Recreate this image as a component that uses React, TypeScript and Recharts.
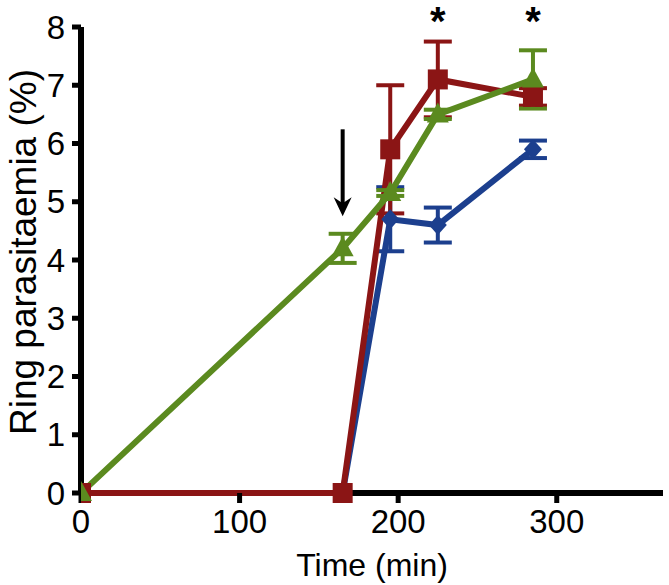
import React from "react";
import {
  LineChart,
  Line,
  XAxis,
  YAxis,
  ErrorBar,
  ReferenceDot,
  ReferenceLine,
} from "recharts";

// time points (min)
const times = [0, 165, 195, 225, 285];

// ring parasitaemia (%) and error per series
const redValues = [0, 0, 5.9, 7.1, 6.8];
const redErrors = [0, 0, 1.1, 0.65, 0.15];
const greenValues = [0, 4.2, 5.15, 6.5, 7.1];
const greenErrors = [0, 0.25, 0.05, 0.08, 0.5];
const blueValues = [0, 0, 4.7, 4.6, 5.9];
const blueErrors = [0, 0, 0.55, 0.3, 0.15];

const xTicks = [0, 100, 200, 300];
const yTicks = [0, 1, 2, 3, 4, 5, 6, 7, 8];
const starTimes = [225, 285];
const arrowAt = { time: 165, value: 4.75 };

const RED = "#8b1515";
const GREEN = "#5b8a1f";
const BLUE = "#1c3f8e";
const FONT = "'Liberation Sans', Arial, sans-serif";

const toRows = (vals: number[], errs: number[]) =>
  times.map((t, i) => ({ time: t, value: vals[i], err: errs[i] }));

const redData = toRows(redValues, redErrors);
const greenData = toRows(greenValues, greenErrors);
const blueData = toRows(blueValues, blueErrors);

const SquareDot = (props: any) => {
  const { cx, cy } = props;
  if (cx == null || cy == null) return null;
  return <rect x={cx - 10} y={cy - 10} width={20} height={20} fill={RED} />;
};

const TriangleDot = (props: any) => {
  const { cx, cy } = props;
  if (cx == null || cy == null) return null;
  return (
    <polygon
      points={`${cx},${cy - 12} ${cx - 11},${cy + 8} ${cx + 11},${cy + 8}`}
      fill={GREEN}
    />
  );
};

const DiamondDot = (props: any) => {
  const { cx, cy } = props;
  if (cx == null || cy == null) return null;
  return (
    <polygon
      points={`${cx},${cy - 10} ${cx + 9},${cy} ${cx},${cy + 10} ${cx - 9},${cy}`}
      fill={BLUE}
    />
  );
};

const Star = (props: any) => {
  const { cx, cy } = props;
  return (
    <text
      x={cx}
      y={cy + 8}
      textAnchor="middle"
      fontSize={40}
      fontWeight="bold"
      fontFamily={FONT}
      fill="#000"
    >
      *
    </text>
  );
};

const Arrow = (props: any) => {
  const { cx, cy } = props;
  return (
    <g>
      <line x1={cx} y1={cy - 87} x2={cx} y2={cy - 12} stroke="#000" strokeWidth={4} />
      <path
        d={`M${cx},${cy} L${cx - 9},${cy - 19} L${cx},${cy - 13} L${cx + 9},${cy - 19} Z`}
        fill="#000"
      />
    </g>
  );
};

const YLabel = (props: any) => {
  const { viewBox } = props;
  const cy = viewBox.y + viewBox.height / 2 - 8;
  const cx = 23;
  return (
    <text
      x={cx}
      y={cy}
      transform={`rotate(-90, ${cx}, ${cy})`}
      textAnchor="middle"
      dominantBaseline="central"
      fontSize={37}
      fontFamily={FONT}
      fill="#000"
    >
      Ring parasitaemia (%)
    </text>
  );
};

const tickStyle = { fontSize: 33, fontFamily: FONT, fill: "#000" };

export default function App() {
  return (
    <div style={{ position: "absolute", left: 0, top: 0, background: "#fff" }}>
      <LineChart
        width={669}
        height={585}
        margin={{ top: 27, right: 6, bottom: 42, left: 1 }}
      >
        <XAxis
          dataKey="time"
          type="number"
          domain={[0, 367]}
          ticks={xTicks}
          allowDataOverflow
          height={50}
          axisLine={false}
          tickLine={{ stroke: "#000", strokeWidth: 5 }}
          tickSize={10}
          tickMargin={7}
          tick={tickStyle}
          label={{
            value: "Time (min)",
            position: "bottom",
            offset: 10,
            style: { fontSize: 32, fontFamily: FONT, fill: "#000" },
          }}
        />
        <YAxis
          type="number"
          domain={[0, 8]}
          ticks={yTicks}
          width={80}
          axisLine={false}
          tickLine={{ stroke: "#000", strokeWidth: 5 }}
          tickSize={9}
          tickMargin={7}
          tick={tickStyle}
          label={<YLabel />}
        />
        <ReferenceLine y={0} stroke="#000" strokeWidth={6} />
        <ReferenceLine x={0} stroke="#000" strokeWidth={6} />
        <Line
          data={blueData}
          dataKey="value"
          stroke={BLUE}
          strokeWidth={6}
          dot={<DiamondDot />}
          isAnimationActive={false}
        >
          <ErrorBar dataKey="err" width={14} strokeWidth={4} stroke={BLUE} direction="y" />
        </Line>
        <Line
          data={redData}
          dataKey="value"
          stroke={RED}
          strokeWidth={6}
          dot={<SquareDot />}
          isAnimationActive={false}
        >
          <ErrorBar dataKey="err" width={14} strokeWidth={4} stroke={RED} direction="y" />
        </Line>
        <Line
          data={greenData}
          dataKey="value"
          stroke={GREEN}
          strokeWidth={6}
          dot={<TriangleDot />}
          isAnimationActive={false}
        >
          <ErrorBar dataKey="err" width={14} strokeWidth={4} stroke={GREEN} direction="y" />
        </Line>
        {starTimes.map((t) => (
          <ReferenceDot key={t} x={t} y={8} r={0} ifOverflow="visible" shape={<Star />} />
        ))}
        <ReferenceDot
          x={arrowAt.time}
          y={arrowAt.value}
          r={0}
          ifOverflow="visible"
          shape={<Arrow />}
        />
      </LineChart>
    </div>
  );
}
